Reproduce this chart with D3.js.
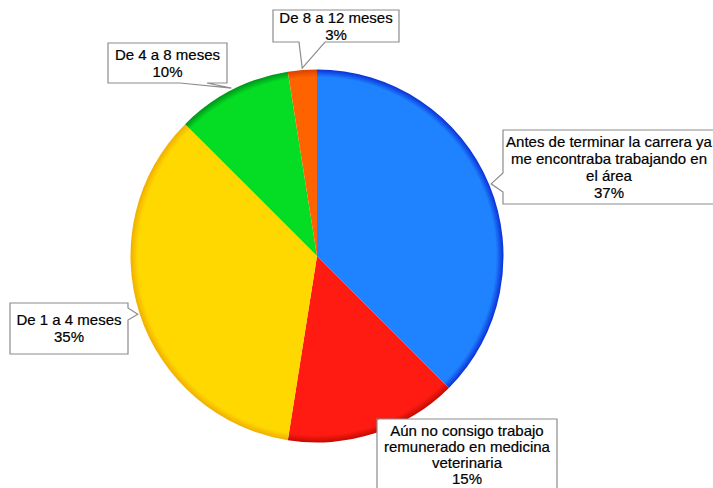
<!DOCTYPE html>
<html>
<head>
<meta charset="utf-8">
<script src="https://cdn.jsdelivr.net/npm/d3@7"></script>
<style>
  body { margin: 0; background: #fff; }
  svg { display: block; }
  .callout { fill: #fff; stroke: #8c8c8c; stroke-width: 1.2; }
  .lbl { font-family: "Liberation Sans", Arial, sans-serif; font-size: 15px; fill: #000; stroke: #000; stroke-width: 0.2; }
</style>
</head>
<body>
<script>
// slices, clockwise from 12 o'clock
var categories = [
  "Antes de terminar la carrera ya me encontraba trabajando en el área",
  "Aún no consigo trabajo remunerado en medicina veterinaria",
  "De 1 a 4 meses",
  "De 4 a 8 meses",
  "De 8 a 12 meses"
];
var counts = [15, 6, 14, 4, 1];           // slice sizes
var pctLabels = ["37%", "15%", "35%", "10%", "3%"];
var labelLines = [
  ["Antes de terminar la carrera ya", "me encontraba trabajando en", "el área"],
  ["Aún no consigo trabajo", "remunerado en medicina", "veterinaria"],
  ["De 1 a 4 meses"],
  ["De 4 a 8 meses"],
  ["De 8 a 12 meses"]
];
var colors = ["#1f82ff", "#ff1b12", "#ffd800", "#04dd24", "#ff6200"];
var edgeColors = ["#0a2fd8", "#c40a00", "#f0ae00", "#00951a", "#d84000"];

var width = 713, height = 488;
var cx = 317, cy = 256, R = 186.5;

var svg = d3.select("body").append("svg")
    .attr("width", width)
    .attr("height", height);

var defs = svg.append("defs");
colors.forEach(function(c, i) {
  var g = defs.append("radialGradient")
      .attr("id", "grad" + i)
      .attr("gradientUnits", "userSpaceOnUse")
      .attr("cx", 0).attr("cy", 0).attr("r", R);
  g.append("stop").attr("offset", "0").attr("stop-color", c);
  g.append("stop").attr("offset", "0.96").attr("stop-color", c);
  g.append("stop").attr("offset", "1").attr("stop-color", edgeColors[i]);
});

var pie = d3.pie().sort(null).value(function(d) { return d; });
var arcs = pie(counts);
var arc = d3.arc().innerRadius(0).outerRadius(R);

var g = svg.append("g").attr("transform", "translate(" + cx + "," + cy + ")");

g.selectAll(".slice")
    .data(arcs)
    .enter()
    .append("path")
      .attr("class", "slice")
      .attr("d", arc)
      .style("fill", function(d, i) { return "url(#grad" + i + ")"; });

// label boxes: x, y, w, h, pointer side and base range along that side
var boxes = [
  { x: 503, y: 130, w: 212, h: 74, side: "left",   b0: 173, b1: 192, tx: 609 },
  { x: 377, y: 419, w: 180, h: 80, side: "top",    b0: 378, b1: 379, tx: 467 },
  { x: 10,  y: 303, w: 118, h: 51, side: "right",  b0: 308, b1: 320, tx: 69 },
  { x: 108, y: 43,  w: 119, h: 40, side: "bottom", b0: 180, b1: 207, tx: 167.5 },
  { x: 273, y: 10,  w: 126, h: 32, side: "bottom", b0: 299, b1: 325, tx: 336 }
];

function calloutPath(b, tip) {
  var x0 = b.x, y0 = b.y, x1 = b.x + b.w, y1 = b.y + b.h;
  var p = d3.path();
  p.moveTo(x0, y0);
  if (b.side === "top") { p.lineTo(b.b0, y0); p.lineTo(tip[0], tip[1]); p.lineTo(b.b1, y0); }
  p.lineTo(x1, y0);
  if (b.side === "right") { p.lineTo(x1, b.b0); p.lineTo(tip[0], tip[1]); p.lineTo(x1, b.b1); }
  p.lineTo(x1, y1);
  if (b.side === "bottom") { p.lineTo(b.b1, y1); p.lineTo(tip[0], tip[1]); p.lineTo(b.b0, y1); }
  p.lineTo(x0, y1);
  if (b.side === "left") { p.lineTo(x0, b.b1); p.lineTo(tip[0], tip[1]); p.lineTo(x0, b.b0); }
  p.closePath();
  return p.toString();
}

var labels = svg.append("g");
arcs.forEach(function(d, i) {
  var b = boxes[i];
  var mid = (d.startAngle + d.endAngle) / 2;
  var pt = d3.pointRadial(mid, R + 2);
  var tip = [cx + pt[0], cy + pt[1]];
  if (b.side === "top") tip = [b.x, b.y + 1];

  labels.append("path")
      .attr("class", "callout")
      .attr("d", calloutPath(b, tip));

  var lines = labelLines[i].concat([pctLabels[i]]);
  var lineH = 17;
  var firstY = b.y + b.h / 2 - (lines.length - 1) * lineH / 2;
  if (b.side === "top") { firstY = b.y + 12; lineH = 16; }
  var t = labels.append("text")
      .attr("class", "lbl")
      .attr("text-anchor", "middle");
  lines.forEach(function(s, j) {
    t.append("tspan")
        .attr("x", b.tx)
        .attr("y", firstY + j * lineH)
        .attr("dy", "0.35em")
        .text(s);
  });
});
</script>
</body>
</html>
